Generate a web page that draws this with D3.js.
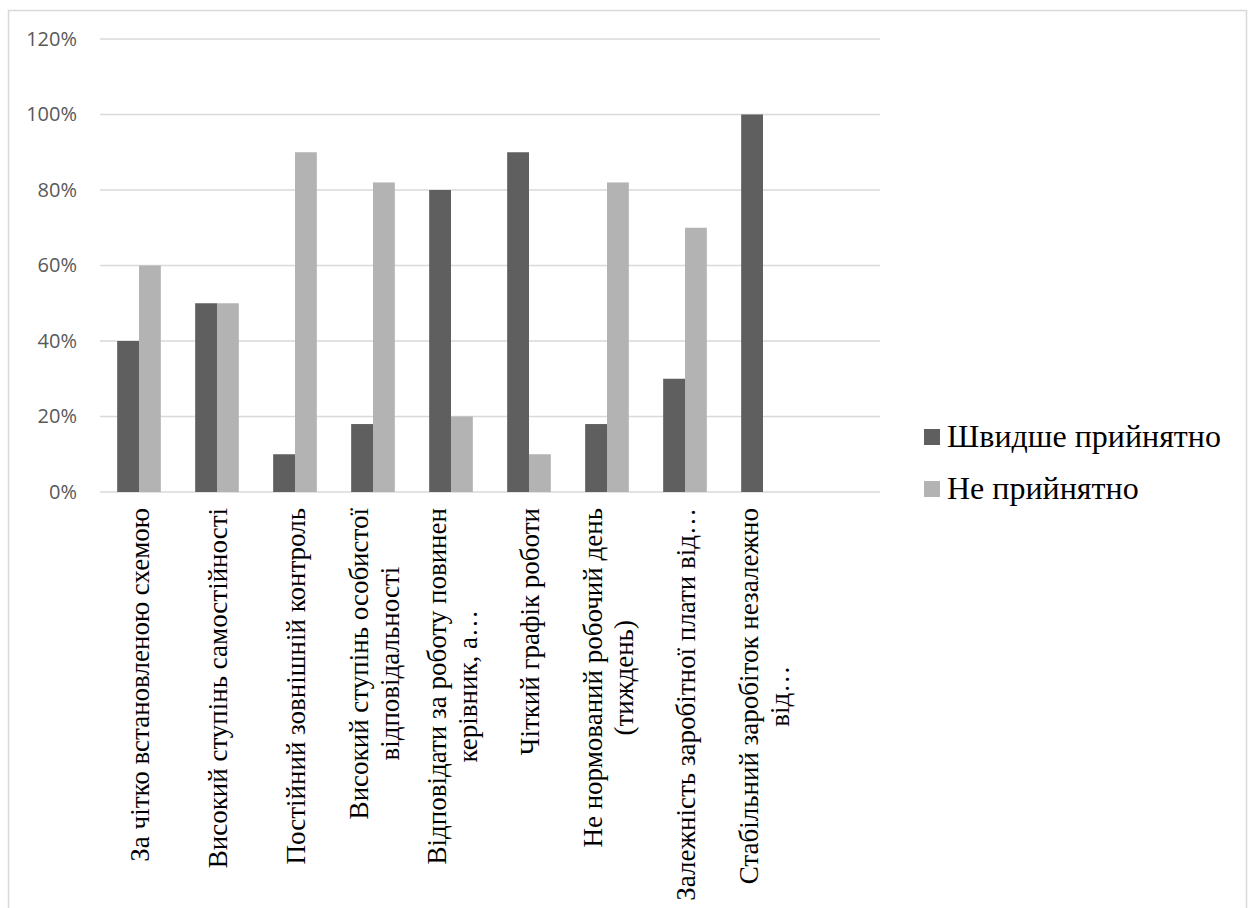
<!DOCTYPE html>
<html>
<head>
<meta charset="utf-8">
<script src="https://cdn.jsdelivr.net/npm/d3@7"></script>
<style>
  html, body { margin: 0; padding: 0; background: #ffffff; }
  svg { display: block; }
</style>
</head>
<body>
<svg id="chart" width="1248" height="908"></svg>
<script>
// Category labels (line breaks as wrapped under the axis)
const categories = [
  "За чітко встановленою схемою",
  "Високий ступінь самостійності",
  "Постійний зовнішній контроль",
  "Високий ступінь особистої\nвідповідальності",
  "Відповідати за роботу повинен\nкерівник, а…",
  "Чіткий графік роботи",
  "Не нормований робочий день\n(тиждень)",
  "Залежність заробітної плати від…",
  "Стабільний заробіток незалежно\nвід…"
];
const seriesNames = ["Швидше прийнятно", "Не прийнятно"];
const acceptable    = [0.40, 0.50, 0.10, 0.18, 0.80, 0.90, 0.18, 0.30, 1.00];
const notAcceptable = [0.60, 0.50, 0.90, 0.82, 0.20, 0.10, 0.82, 0.70, null];
const yTicks = [0, 0.2, 0.4, 0.6, 0.8, 1.0, 1.2];
const seriesColors = ["#5f5f5f", "#b3b3b3"];

const SERIF = "Liberation Serif";

const rows = categories.map((c, i) => ({
  cat: c,
  values: [
    { key: seriesNames[0], v: acceptable[i] },
    { key: seriesNames[1], v: notAcceptable[i] }
  ]
}));

const svg = d3.select("#chart");

// outer chart frame
svg.append("rect")
  .attr("x", 8.5).attr("y", 10.5)
  .attr("width", 1238).attr("height", 910)
  .attr("fill", "#ffffff")
  .attr("stroke", "#d9d9d9").attr("stroke-width", 1.5);

const plotLeft = 100, plotRight = 880, plotTop = 39, plotBottom = 492;
// one spare slot on the right, as the plot area leaves it empty
const slot = (plotRight - plotLeft) / (categories.length + 1);

const y = d3.scaleLinear().domain([0, 1.2]).range([plotBottom, plotTop]);
const x0 = d3.scaleBand().domain(categories)
  .range([plotLeft, plotLeft + slot * categories.length]);
const x1 = d3.scaleBand().domain(seriesNames)
  .range([slot * 0.22, slot * 0.78]);
const color = d3.scaleOrdinal().domain(seriesNames).range(seriesColors);

// horizontal gridlines
svg.append("g")
  .selectAll("line")
  .data(yTicks)
  .join("line")
  .attr("x1", plotLeft).attr("x2", plotRight)
  .attr("y1", d => y(d)).attr("y2", d => y(d))
  .attr("stroke", "#d9d9d9").attr("stroke-width", 1.6);

// y axis labels
const yAxis = d3.axisLeft(y).tickValues(yTicks)
  .tickFormat(d3.format(".0%")).tickSize(0).tickPadding(0);
const gy = svg.append("g").attr("transform", "translate(77,0)").call(yAxis);
gy.select(".domain").remove();
gy.selectAll("text")
  .style("font-family", "Open Sans")
  .style("font-size", "20px")
  .attr("fill", "#595959");

// bars
const groups = svg.append("g")
  .selectAll("g")
  .data(rows)
  .join("g")
  .attr("transform", d => `translate(${x0(d.cat)},0)`);

groups.selectAll("rect")
  .data(d => d.values.filter(v => v.v != null && v.v > 0))
  .join("rect")
  .attr("x", d => x1(d.key))
  .attr("width", x1.bandwidth())
  .attr("y", d => y(d.v))
  .attr("height", d => y(0) - y(d.v))
  .attr("fill", d => color(d.key));

// category labels, rotated, wrapped lines centred on one another
const labelTop = 508, lineH = 31;
const labelG = svg.append("g");
categories.forEach(c => {
  const lines = c.split("\n");
  const cx = x0(c) + x0.bandwidth() / 2;
  const g = labelG.append("g");
  const texts = lines.map(ln => g.append("text")
    .text(ln)
    .style("font-family", SERIF)
    .style("font-size", "27px")
    .attr("fill", "#000000")
    .attr("text-anchor", "middle"));
  const maxLen = d3.max(texts, t => t.node().getComputedTextLength());
  const midY = labelTop + maxLen / 2;
  const n = lines.length;
  texts.forEach((t, j) => {
    const bx = cx + 10 + (j - (n - 1) / 2) * lineH;
    t.attr("transform", `translate(${bx},${midY}) rotate(-90)`);
  });
});

// legend
const legend = svg.append("g").attr("transform", "translate(924,0)");
const legendY = [437, 489];
seriesNames.forEach((s, i) => {
  legend.append("rect")
    .attr("x", 0).attr("y", legendY[i] - 8)
    .attr("width", 16).attr("height", 16)
    .attr("fill", seriesColors[i]);
  legend.append("text")
    .attr("x", 23).attr("y", legendY[i] + 10)
    .style("font-family", SERIF)
    .style("font-size", "32px")
    .attr("fill", "#000000")
    .text(s);
});
</script>
</body>
</html>
